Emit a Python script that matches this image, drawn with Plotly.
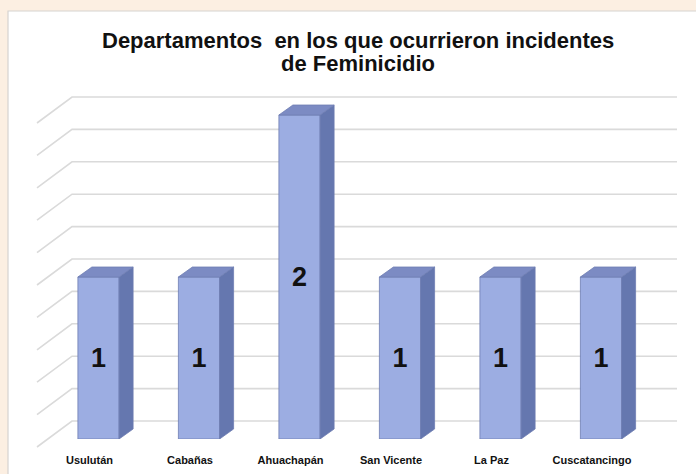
import plotly.graph_objects as go

# ---- data -------------------------------------------------------------
departamentos = ["Usulután", "Cabañas", "Ahuachapán", "San Vicente", "La Paz", "Cuscatancingo"]
incidentes = [1, 1, 2, 1, 1, 1]
titulo = ["Departamentos  en los que ocurrieron incidentes", "de Feminicidio"]

# ---- geometry of the pseudo-3D scene (pixels) -------------------------
W, H = 696, 474
PX_PER_UNIT = 162          # vertical pixels per incident
PX_PER_CAT = 100.5         # horizontal pixels between columns
FIRST_CAT_PX = 98.5        # x of the first column's centre
FLOOR_PX = 439             # baseline of the column fronts
TOP_PX = 60                # top of the drawing region
BAR_WIDTH = 0.41           # front face width, in category units
DEPTH_DX, DEPTH_DY = 14, 10        # column depth
WALL_LEFT_PX, WALL_RIGHT_PX = 72, 677
WALL_FLOOR_PX = 421                # back wall baseline
SIDE_DX, SIDE_DY = 35, 26          # left wall depth
GRID_STEP = 0.2
FONT = "Liberation Sans, Arial, sans-serif"

FRONT = "#9cade2"
SIDE = "#6577af"
TOP = "#7c8bc3"
EDGE = "#6f7eb2"
GRID = "#dadada"


def px_x(px):
    return px / W


def px_y(px):
    return 1 - px / H


fig = go.Figure()

# ---- back and left walls: horizontal grid + receding diagonals -------
wall_x0, wall_x1 = 20, 690
wall_y0, wall_y1 = 470, TOP_PX
grid_top = max(incidentes)
n_lines = int(round(grid_top / GRID_STEP))
gx, gy = [], []
for k in range(n_lines + 1):
    t = k * GRID_STEP
    gx += [-SIDE_DX, 0, WALL_RIGHT_PX - WALL_LEFT_PX, None]
    gy += [t - SIDE_DY / PX_PER_UNIT, t, t, None]
fig.add_trace(go.Scatter(x=gx, y=gy, mode="lines", xaxis="x", yaxis="y",
                         line=dict(color=GRID, width=1.6), hoverinfo="skip",
                         showlegend=False))

# ---- columns ------------------------------------------------------------
pos = list(range(len(departamentos)))
dx = DEPTH_DX / PX_PER_CAT
dy = DEPTH_DY / PX_PER_UNIT
half = BAR_WIDTH / 2

fig.add_trace(go.Bar(
    x=pos, y=incidentes, width=BAR_WIDTH,
    xaxis="x2", yaxis="y2",
    marker=dict(color=FRONT, line=dict(color=EDGE, width=0.8)),
    texttemplate="%{y}", textposition="inside", insidetextanchor="middle",
    textangle=0, constraintext="none",
    textfont=dict(family=FONT, size=27, color="#111111", weight="bold"),
    showlegend=False, hoverinfo="skip",
))

sx, sy, tx, ty = [], [], [], []
for i, v in zip(pos, incidentes):
    xl, xr = i - half, i + half
    sx += [xr, xr + dx, xr + dx, xr, xr, None]
    sy += [0, dy, v + dy, v, 0, None]
    tx += [xl, xl + dx, xr + dx, xr, xl, None]
    ty += [v, v + dy, v + dy, v, v, None]

fig.add_trace(go.Scatter(x=sx, y=sy, xaxis="x2", yaxis="y2", mode="lines",
                         fill="toself", fillcolor=SIDE,
                         line=dict(color=EDGE, width=0.8),
                         hoverinfo="skip", showlegend=False))
fig.add_trace(go.Scatter(x=tx, y=ty, xaxis="x2", yaxis="y2", mode="lines",
                         fill="toself", fillcolor=TOP,
                         line=dict(color=EDGE, width=0.8),
                         hoverinfo="skip", showlegend=False))

# ---- layout -------------------------------------------------------------
hidden = dict(visible=False, showgrid=False, zeroline=False, fixedrange=True)

title_annotations = [
    dict(text="<b>" + line + "</b>", xref="paper", yref="paper",
         x=px_x(358), y=px_y(41 + 22 * k), xanchor="center", yanchor="middle",
         showarrow=False, font=dict(family=FONT, size=22, color="#111111"))
    for k, line in enumerate(titulo)
]

fig.update_layout(
    width=W, height=H,
    margin=dict(l=0, r=0, t=0, b=0),
    paper_bgcolor="#fcefe2",
    plot_bgcolor="rgba(0,0,0,0)",
    showlegend=False,
    xaxis=dict(hidden, domain=[px_x(wall_x0), px_x(wall_x1)],
               range=[wall_x0 - WALL_LEFT_PX, wall_x1 - WALL_LEFT_PX]),
    yaxis=dict(hidden, domain=[px_y(wall_y0), px_y(wall_y1)],
               range=[-(wall_y0 - WALL_FLOOR_PX) / PX_PER_UNIT,
                      (WALL_FLOOR_PX - wall_y1) / PX_PER_UNIT]),
    xaxis2=dict(domain=[px_x(8), 1], anchor="y2",
                tickmode="array", tickvals=pos, ticktext=departamentos,
                range=[(8 - FIRST_CAT_PX) / PX_PER_CAT, (W - FIRST_CAT_PX) / PX_PER_CAT],
                showgrid=False, zeroline=False, showline=False, ticks="",
                ticklabelshift=-9, ticklabelstandoff=13,
                tickfont=dict(family=FONT, size=11, color="#111111", weight="bold"),
                fixedrange=True),
    yaxis2=dict(hidden, domain=[px_y(FLOOR_PX), px_y(TOP_PX)], anchor="x2",
                range=[0, (FLOOR_PX - TOP_PX) / PX_PER_UNIT]),
    shapes=[dict(type="rect", xref="paper", yref="paper", layer="below",
                 x0=px_x(8), x1=1.01, y0=-0.01, y1=px_y(11),
                 fillcolor="white", line=dict(color="#d6d3d0", width=1.2))],
    annotations=title_annotations,
)

fig.write_html("out.html")
